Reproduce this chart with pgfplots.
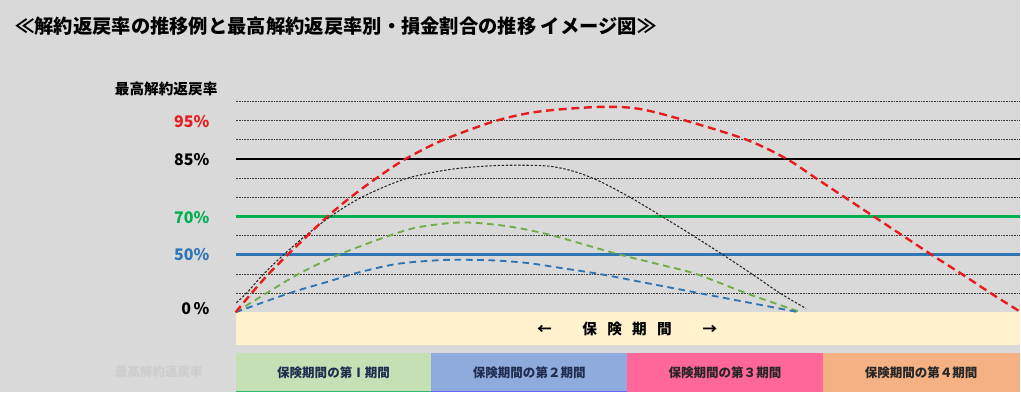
\documentclass[border=0pt]{standalone}
\usepackage{pgfplots}
\pgfplotsset{compat=1.18}
\usepackage{fontspec}
\setmainfont{Noto Sans CJK JP}
\definecolor{bg}{HTML}{D9D9D9}
\definecolor{faint}{HTML}{CDCDCD}
\definecolor{cream}{HTML}{FFF2CC}
\definecolor{boxg}{HTML}{C5E0B4}
\definecolor{boxb}{HTML}{8FAADC}
\definecolor{boxp}{HTML}{FF6699}
\definecolor{boxo}{HTML}{F4B183}
\definecolor{lred}{HTML}{E81C1C}
\definecolor{lgreen}{HTML}{00B050}
\definecolor{lblue}{HTML}{2E75B6}
\definecolor{dgreen}{HTML}{70AD47}
\definecolor{navy}{HTML}{1F2D50}
\definecolor{teal}{HTML}{2EB872}
\begin{document}
\begin{tikzpicture}
\begin{axis}[
  width=765.75pt, height=294.75pt, scale only axis,
  xmin=0, xmax=1021, ymin=-4.187, ymax=16.303,
  axis lines=none, ticks=none, clip=false,
]
% background
\fill[bg] (axis cs:0,-4.187) rectangle (axis cs:1021,16.303);
% cream band
\fill[cream] (axis cs:236,0) rectangle (axis cs:1021,-1.736);
% period boxes
\fill[boxg] (axis cs:236,-2.105) rectangle (axis cs:432,-4.187);
\fill[boxb] (axis cs:432,-2.105) rectangle (axis cs:628,-4.187);
\fill[boxp] (axis cs:628,-2.105) rectangle (axis cs:824,-4.187);
\fill[boxo] (axis cs:824,-2.105) rectangle (axis cs:1021,-4.187);
\addplot[color=teal, line width=1pt, forget plot] coordinates {(236,-4.15) (432,-4.15)};
\addplot[color=blue!60, line width=1pt, forget plot] coordinates {(432,-4.15) (628,-4.15)};
% dotted grid lines
\pgfplotsinvokeforeach{1,2,4,6,7,9,10,11}{
  \addplot[black!75, line width=0.6pt, dash pattern=on 0.6pt off 0.6pt] coordinates {(236,#1) (1021,#1)};
}
% solid reference lines
\addplot[black, line width=2.2pt] coordinates {(236,8) (1021,8)};
\addplot[lgreen, line width=2.2pt] coordinates {(236,5) (1021,5)};
\addplot[lblue, line width=2.2pt] coordinates {(236,3) (1021,3)};
% curves
\addplot[black!85, line width=0.8pt, dash pattern=on 1.8pt off 1.3pt, smooth] coordinates {
 (236.7,0.5) (247,1) (264,2) (284,3) (306,4) (331,5) (362,6) (405,6.95) (450,7.45) (497,7.66) (547,7.64) (575,7.35) (600,6.85) (631,6) (663,5) (694,4) (724,3) (753,2) (781,1) (807,0.2)};
\addplot[dgreen, line width=1.4pt, dash pattern=on 5pt off 3.5pt, smooth] coordinates {
 (236,0) (267,1) (299,2) (339,3) (390,4) (420,4.45) (463,4.69) (507,4.5) (550,4.05) (617,3.06) (660,2.5) (697,2) (747,1) (802,0)};
\addplot[lblue, line width=1.4pt, dash pattern=on 5pt off 3.5pt, smooth] coordinates {
 (236,0) (290,1) (330,1.62) (357,2.05) (397,2.52) (437,2.71) (463,2.74) (497,2.7) (530,2.56) (563,2.3) (600,2) (650,1.5) (700,1) (750,0.5) (800,0)};
\addplot[lred, line width=1.8pt, dash pattern=on 6pt off 3.5pt, smooth] coordinates {
 (236,0) (252,1) (269,2) (288,3) (308,4) (328,5) (351,6) (377,7) (406,8) (444,9) (497,10) (540,10.48) (600,10.72) (640,10.62) (687,10) (748,9) (788,8) (817,7) (846,6) (875,5) (904,4) (933,3) (963,2) (992,1) (1021,0.05)};
% texts
\node[anchor=west, inner sep=0pt, font=\fontsize{14.5pt}{16pt}\selectfont\bfseries] at (axis cs:15,14.95) {≪解約返戻率の推移例と最高解約返戻率別・損金割合の推移 イメージ図≫};
\node[anchor=east, inner sep=0pt, font=\fontsize{11pt}{13pt}\selectfont\bfseries] at (axis cs:218,11.66) {最高解約返戻率};
\node[anchor=east, inner sep=0pt, text=lred, font=\fontsize{12pt}{14pt}\selectfont\bfseries] at (axis cs:210,9.98) {95\%};
\node[anchor=east, inner sep=0pt, text=black, font=\fontsize{12pt}{14pt}\selectfont\bfseries] at (axis cs:210,7.98) {85\%};
\node[anchor=east, inner sep=0pt, text=lgreen, font=\fontsize{12pt}{14pt}\selectfont\bfseries] at (axis cs:210,4.96) {70\%};
\node[anchor=east, inner sep=0pt, text=lblue, font=\fontsize{12pt}{14pt}\selectfont\bfseries] at (axis cs:210,3.0) {50\%};
\node[anchor=east, inner sep=0pt, text=black, font=\fontsize{12pt}{14pt}\selectfont\bfseries] at (axis cs:210,0.19) {0\,\%};
\node[inner sep=0pt, font=\fontsize{11pt}{12pt}\selectfont\bfseries] at (axis cs:628,-0.9) {←\hspace{2.1em}保\hspace{0.7em}険\hspace{0.7em}期\hspace{0.7em}間\hspace{2.1em}→};
\node[inner sep=0pt, text=navy, font=\fontsize{9.4pt}{11pt}\selectfont\bfseries] at (axis cs:334,-3.14) {保険期間の第Ⅰ期間};
\node[inner sep=0pt, text=navy, font=\fontsize{9.4pt}{11pt}\selectfont\bfseries] at (axis cs:530,-3.14) {保険期間の第２期間};
\node[inner sep=0pt, text=black!85, font=\fontsize{9.4pt}{11pt}\selectfont\bfseries] at (axis cs:726,-3.14) {保険期間の第３期間};
\node[inner sep=0pt, text=black!85, font=\fontsize{9.4pt}{11pt}\selectfont\bfseries] at (axis cs:922.5,-3.14) {保険期間の第４期間};
\node[inner sep=0pt, text=faint, font=\fontsize{9.4pt}{11pt}\selectfont\bfseries] at (axis cs:159,-3.09) {最高解約返戻率};
\end{axis}
\end{tikzpicture}
\end{document}
